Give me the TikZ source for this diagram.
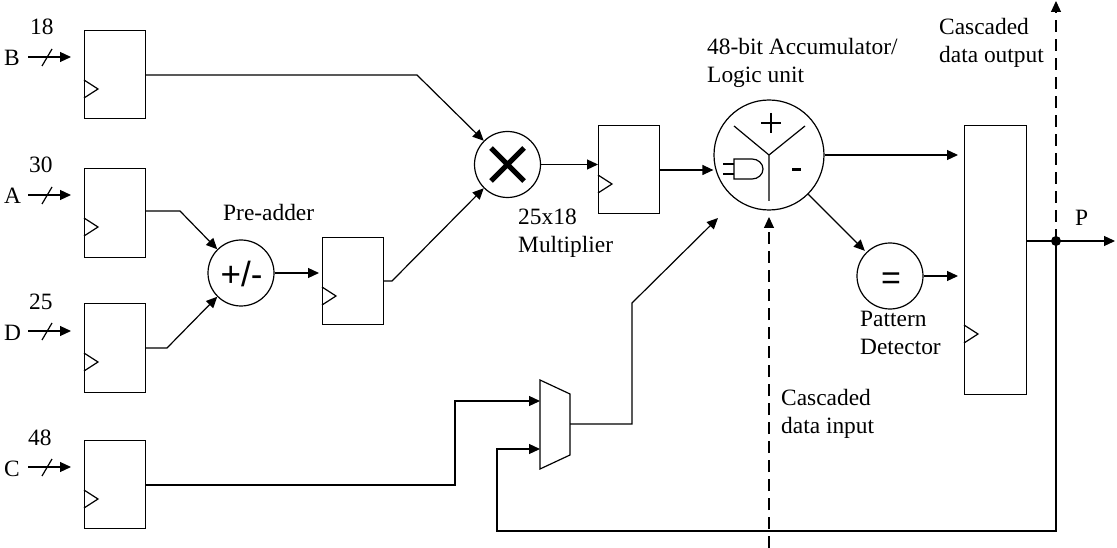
\documentclass[tikz,border=0pt]{standalone}
\usepackage{fontspec}
\setmainfont{Liberation Serif}
\setsansfont{Liberation Sans}
\usetikzlibrary{arrows.meta,calc}
\tikzset{
 x=1pt,y=-1pt,
 wire/.style={line width=1.2pt,-{Triangle[length=11pt,width=10pt]}},
 plain/.style={line width=1.2pt},
 dash wire/.style={line width=1.1pt,dash pattern=on 12pt off 7pt,-{Triangle[length=11pt,width=10pt]}},
 regbox/.style={draw,line width=1.2pt,fill=white,minimum width=61pt,anchor=north west,inner sep=0pt},
 circ/.style={draw,circle,line width=1.2pt,inner sep=0pt,fill=white},
 lbl/.style={font=\fontsize{23.4}{26}\selectfont,inner sep=0pt,anchor=base west},
}
\newcommand{\clkB}[2]{\draw[plain] (#1) ++(0,#2) -- ++(14,-9) -- ++(-14,-9);}
\newcommand{\businput}[5]{%
 \coordinate (#1s) at (28,#4); \coordinate (#1e) at (71,#4);
 \draw[wire] (#1s) -- (#1e);
 \draw[plain] (42,#4+9) -- (52,#4-8);
 \node[lbl] at (4,#4+9) {#2};
 \node[lbl] at (#5,#4-22) {#3};}
\begin{document}
\begin{tikzpicture}
\useasboundingbox (0,0) rectangle (1117,548);
% registers
\node[regbox,minimum height=88pt] (rb) at (84,30) {};
\node[regbox,minimum height=89pt] (ra) at (84,168) {};
\node[regbox,minimum height=89pt] (rd) at (84,303) {};
\node[regbox,minimum height=88pt] (rc) at (84,440) {};
\node[regbox,minimum height=87pt] (rp) at (322,237) {};
\node[regbox,minimum height=88pt] (rm) at (598,125) {};
\node[regbox,minimum height=269pt,minimum width=62pt] (ro) at (964,125) {};
% clock marks
\clkB{rb.north west}{68}
\clkB{ra.north west}{68}
\clkB{rd.north west}{68}
\clkB{rc.north west}{68}
\clkB{rp.north west}{68}
\clkB{rm.north west}{68}
\clkB{ro.north west}{218}
% circles
\node[circ,minimum size=66pt] (pa) at (241,273) {};
\node[lbl,font=\fontsize{35}{35}\selectfont\sffamily,anchor=base] at (241.5,287) {+/-};
\node[circ,minimum size=66pt] (mu) at (507.5,164.5) {};
\draw[line width=5pt] (491,148) -- (524,181) (524,148) -- (491,181);
\node[circ,minimum size=110pt] (ac) at (769,155) {};
\node[circ,minimum size=66pt] (pd) at (890,276) {};
\node[lbl,font=\fontsize{34}{34}\selectfont\sffamily,anchor=base] at (891,290) {=};
% accumulator internals
\draw[plain] (734,126) -- (769,155) -- (805,126) (769,155) -- (769,201);
\draw[line width=1.6pt] (771,113) -- (771,133) (761,123) -- (781,123);
\draw[line width=3pt] (792,170) -- (801,170);
\draw[plain] (734,159) -- (752,159) to[out=0,in=90] (763,169) to[out=-90,in=0] (752,179) -- (734,179) -- cycle;
\draw[plain] (723,164) -- (734,164) (723,174) -- (734,174);
% mux
\draw[line width=1.2pt,fill=white] (540,380) -- (570,394) -- (570,455) -- (540,469) -- cycle;
\coordinate (mi1) at (540,401);
\coordinate (mi2) at (540,449);
\coordinate (mo) at (570,424);
% inputs
\businput{b}{B}{18}{57}{30}
\businput{a}{A}{30}{195}{29}
\businput{d}{D}{25}{331}{29}
\businput{c}{C}{48}{467}{28}
% connectors
\draw[wire] (rb.east |- 0,75) -- (417,75) -- (mu.135);
\draw[wire] (ra.east |- 0,211) -- (180,211) -- (pa.135);
\draw[wire] (rd.east |- 0,348) -- (167,348) -- (pa.225);
\draw[wire,shorten >=3pt] (pa.east) -- (rp.west |- pa.east);
\draw[wire] (rp.east |- 0,281) -- (392,281) -- (mu.225);
\draw[wire] (mu.east) -- (rm.west |- mu.east);
\draw[wire] (rm.east |- 0,170) -- (ac.west |- 0,170);
\draw[wire] (ac.east) -- (958,155);
\draw[wire,shorten >=2pt] (ac.-45) -- (pd.135);
\draw[wire] (pd.east) -- (958,276);
\draw[wire] (ro.east |- 0,241) -- (1115,241);
\coordinate (jn) at (1056,241);
\fill (jn) circle (5pt);
\draw[wire] (jn) -- (1056,531) -- (497,531) -- (497,449) -- (mi2);
\draw[wire] (rc.east |- 0,485) -- (455,485) -- (455,401) -- (mi1);
\draw[wire] (mo) -- (632,424) -- (632,303) -- (718,218);
\draw[dash wire] (jn) -- (1056,1);
\draw[dash wire] (769,548) -- (769,217);
% labels
\node[lbl] at (223,221) {Pre-adder};
\node[lbl] at (518,225) {25x18};
\node[lbl] at (518,253) {Multiplier};
\node[lbl] at (707,55) {48-bit Accumulator/};
\node[lbl] at (707,83) {Logic unit};
\node[lbl] at (939,35) {Cascaded};
\node[lbl] at (939,63) {data output};
\node[lbl] at (860,326) {Pattern};
\node[lbl] at (860,354) {Detector};
\node[lbl] at (781,405) {Cascaded};
\node[lbl] at (781,433) {data input};
\node[lbl] at (1075,226) {P};
\end{tikzpicture}
\end{document}
